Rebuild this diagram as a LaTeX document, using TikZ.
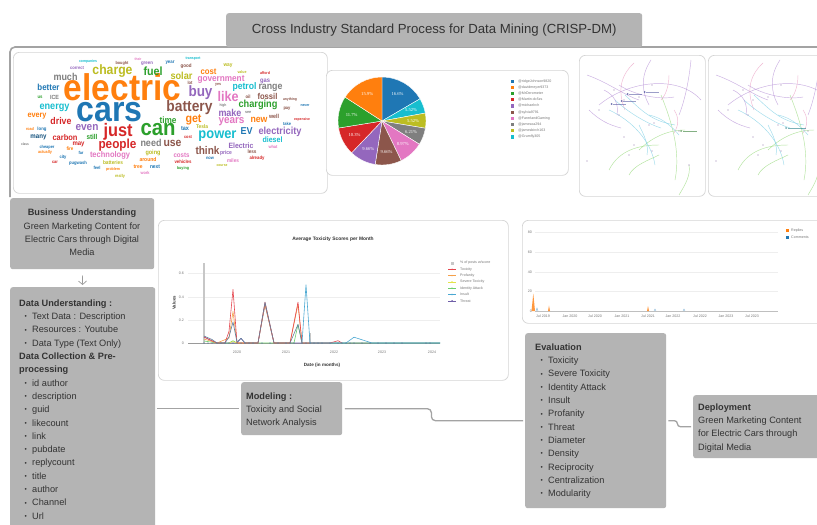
\documentclass[tikz,border=0pt]{standalone}
\usepackage{fontspec}
\setmainfont{Liberation Sans}
\newfontfamily\cloudfont[FakeStretch=0.9]{Liberation Sans}
\newfontfamily\piefont{Liberation Serif}
\usetikzlibrary{arrows.meta,calc}

% palette
\definecolor{boxgray}{HTML}{B4B4B4}
\definecolor{textdark}{HTML}{333333}
\definecolor{framegray}{HTML}{A3A3A3}
\definecolor{cardline}{HTML}{D4D4D4}
\definecolor{gridgray}{HTML}{EEEEEE}
\definecolor{axisgray}{HTML}{9A9A9A}
\definecolor{labgray}{HTML}{777777}
\definecolor{tabblue}{HTML}{1F77B4}
\definecolor{taborange}{HTML}{FF7F0E}
\definecolor{tabgreen}{HTML}{2CA02C}
\definecolor{tabred}{HTML}{D62728}
\definecolor{tabpurple}{HTML}{9467BD}
\definecolor{tabbrown}{HTML}{8C564B}
\definecolor{tabpink}{HTML}{E377C2}
\definecolor{tabgray}{HTML}{7F7F7F}
\definecolor{tabolive}{HTML}{BCBD22}
\definecolor{tabcyan}{HTML}{17BECF}
\definecolor{serTox}{HTML}{E5464F}
\definecolor{serProf}{HTML}{F5A04A}
\definecolor{serSev}{HTML}{E3E34A}
\definecolor{serIdent}{HTML}{6CCF6C}
\definecolor{serIns}{HTML}{4AA8D2}
\definecolor{serThr}{HTML}{6F5FA8}
\definecolor{serMix}{HTML}{62809E}
\definecolor{netlav}{HTML}{B894D8}
\definecolor{netcyan}{HTML}{7FD0E6}
\definecolor{netgreen}{HTML}{9ADB7E}
\definecolor{netpink}{HTML}{EBA0C4}
\definecolor{netmark}{HTML}{4B4F9C}

\newcommand\bodyfont{\fontsize{9.2}{13.3}\selectfont}
\newcommand\tinyf{\fontsize{3.6}{4.2}\selectfont}
\newcommand\bul[1]{\hspace*{5.5pt}\makebox[7.5pt][l]{\raisebox{0.8pt}{\scalebox{0.7}{\textbullet}}}#1}

% word-cloud word: x, y, width, colour, word
\newcounter{wcn}
\newcommand\cw[5]{\stepcounter{wcn}\node[cloudword,text=#4] (cw\thewcn) at (#1,#2) {\resizebox{#3pt}{!}{\cloudfont\bfseries #5}};}

% network sketch, coordinates relative to the card corner
\newcommand\netgraph{%
  \draw[netl=netlav]   (8,20) .. controls (30,28) and (45,40) .. (60,45);
  \draw[netl=netlav]   (20,50) .. controls (50,25) and (100,20) .. (122,45);
  \draw[netl=netpink]  (55,8) .. controls (42,20) and (38,35) .. (46,55);
  \draw[netl=netcyan]  (36,45) .. controls (52,60) and (72,70) .. (82,73);
  \draw[netl=netcyan]  (46,40) .. controls (62,55) and (72,66) .. (96,70);
  \draw[netl=netgreen] (82,40) .. controls (92,65) and (102,95) .. (96,125);
  \draw[netl=netgreen] (60,95) .. controls (70,85) and (86,75) .. (106,75);
  \draw[netl=netgreen] (30,115) .. controls (40,95) and (60,90) .. (80,90);
  \draw[netl=netlav]   (112,5) .. controls (110,25) and (106,45) .. (100,60);
  \draw[netl=netlav]   (72,5) .. controls (62,20) and (62,35) .. (70,50);
  \draw[netl=netpink]  (90,20) .. controls (90,30) and (87,40) .. (82,45);
  \draw[netl=netcyan]  (30,55) .. controls (52,65) and (72,85) .. (76,110);
  \draw[netl=netgreen] (110,110) .. controls (112,120) and (106,130) .. (100,140);
  \draw[netl=netlav]   (10,55) .. controls (20,65) and (30,70) .. (42,73);
  \draw[netl=netlav]   (40,30) .. controls (55,40) and (80,45) .. (95,42);
  \draw[netl=netcyan]  (60,70) .. controls (65,80) and (70,90) .. (68,100);
  \draw[netl=netpink]  (95,55) .. controls (100,62) and (100,70) .. (95,78);
  \draw[netl=netgreen] (50,120) .. controls (55,110) and (70,105) .. (80,100);
  \draw[netl=netlav]   (25,35) .. controls (35,40) and (40,48) .. (38,60);
  \draw[netl=netcyan]  (70,60) .. controls (80,62) and (90,68) .. (100,80);
  \foreach \px/\py in {35,45/45,40/60,45/82,73/96,70/70,50/100,60/42,73/30,55/90,20/55,8/106,75/68,100/76,110}
    \fill[netlav!80!black, opacity=0.45] (\px,\py) circle (0.9);
}

\tikzset{
  stepbox/.style={fill=boxgray, rounded corners=2.5pt, inner sep=0pt, anchor=north west},
  card/.style={draw=cardline, fill=white, rounded corners=6pt, line width=0.7pt, inner sep=0pt, anchor=north west},
  body/.style={font=\bodyfont, text=textdark, inner sep=0pt, align=left, anchor=north west},
  link/.style={draw=framegray, line width=1.3pt},
  frameline/.style={draw=framegray, line width=1.6pt},
  downarrow/.style={draw=axisgray, line width=0.7pt, -{Straight Barb[length=3.5pt,width=8pt]}},
  cloudword/.style={inner sep=0pt},
  tinylab/.style={font=\tinyf, text=labgray, inner sep=0pt},
  grid/.style={draw=gridgray, line width=0.4pt},
  ser/.style={draw=#1, line width=0.6pt, line join=round},
  netl/.style={draw=#1, line width=0.45pt, opacity=0.75},
  netlabel/.style={draw=netmark, line width=0.7pt, opacity=0.55},
}

\begin{document}
\begin{tikzpicture}[x=1pt,y=-1pt]
\useasboundingbox (0,0) rectangle (817,525);
\fill[white] (0,0) rectangle (817,525);

% ---------- outer frame and title ----------
\coordinate (fbot) at (10,197);
\coordinate (fcorner) at (10,47);
\coordinate (fright) at (818,47);
\draw[frameline, rounded corners=5pt] (fbot) -- (fcorner) -- (fright);
\node[stepbox, minimum width=416pt, minimum height=34pt] (title) at (226,13) {};
\node[font=\fontsize{13.2}{15}\selectfont, text=textdark, inner sep=0pt] (titletext) at (title.center) {Cross Industry Standard Process for Data Mining (CRISP-DM)};

% ---------- word cloud card ----------
\node[card, minimum width=314pt, minimum height=141pt] (cloudcard) at (13,52) {};
\cw{122.5}{87}{117}{taborange}{electric}
\cw{109.5}{112.5}{66}{tabblue}{cars}
\cw{118}{131.5}{29}{tabred}{just}
\cw{158}{130}{35}{tabgreen}{can}
\cw{189.5}{107.5}{46}{tabbrown}{battery}
\cw{200.5}{93}{24}{tabpurple}{buy}
\cw{228}{96}{21}{tabpink}{like}
\cw{217.5}{136}{38}{tabcyan}{power}
\cw{117.5}{145.5}{38}{tabred}{people}
\cw{151}{143}{21}{tabgray}{need}
\cw{172.5}{143.5}{18}{tabbrown}{use}
\cw{207.5}{151}{24}{tabbrown}{think}
\cw{112.5}{71.5}{40}{tabolive}{charge}
\cw{153}{71}{19}{tabgreen}{fuel}
\cw{181.5}{76}{22}{tabolive}{solar}
\cw{65.5}{77}{24}{tabgray}{much}
\cw{48.5}{87}{22}{tabblue}{better}
\cw{54.5}{97}{9}{tabgray}{ICE}
\cw{40}{97}{5}{tabgreen}{us}
\cw{54.5}{108}{30}{tabcyan}{energy}
\cw{37}{116}{19}{taborange}{every}
\cw{61}{121}{21}{tabred}{drive}
\cw{87}{128}{23}{tabpurple}{even}
\cw{65}{137.5}{25}{tabred}{carbon}
\cw{92}{137}{11}{tabgreen}{still}
\cw{38.5}{137}{16}{tabblue!70!black}{many}
\cw{30}{129}{8}{taborange}{road}
\cw{42}{129}{9}{tabblue}{long}
\cw{78.5}{144.5}{12}{tabred}{may}
\cw{47}{147}{15}{tabblue}{cheaper}
\cw{25}{144}{8}{tabgray}{class}
\cw{45}{152}{14}{taborange}{actually}
\cw{110}{155}{40}{tabpink}{technology}
\cw{153}{152.5}{15}{tabolive}{going}
\cw{181.5}{155.5}{16}{tabpink}{costs}
\cw{226}{153}{12}{tabpurple}{price}
\cw{252}{152}{9}{tabbrown}{less}
\cw{241}{146}{25}{tabpurple}{Electric}
\cw{272.5}{139.5}{20}{tabcyan}{diesel}
\cw{280}{132}{43}{tabpurple}{electricity}
\cw{246.5}{131}{12}{tabblue}{EV}
\cw{231.5}{122}{26}{tabpink}{years}
\cw{259}{120}{17}{taborange}{new}
\cw{274}{116.5}{10}{tabbrown}{well}
\cw{302}{120}{16}{tabred}{expensive}
\cw{287}{124}{8}{tabblue}{take}
\cw{230}{113}{23}{tabpurple}{make}
\cw{193.5}{119.5}{16}{taborange}{get}
\cw{168}{120}{17}{tabgreen}{time}
\cw{258}{105}{39}{tabgreen}{charging}
\cw{267.5}{96}{20}{tabbrown}{fossil}
\cw{270.5}{88}{24}{tabgray}{range}
\cw{244.5}{87}{24}{tabcyan}{petrol}
\cw{221}{79}{47}{tabpink}{government}
\cw{208.5}{71.5}{16}{taborange}{cost}
\cw{265}{81}{10}{tabpurple}{gas}
\cw{265}{73}{10}{tabred}{afford}
\cw{290}{100}{14}{tabbrown}{anything}
\cw{305}{106}{9}{tabblue}{never}
\cw{287}{109}{7}{tabbrown}{pay}
\cw{185}{129}{8}{tabblue}{tax}
\cw{202}{127}{12}{tabolive}{Tesla}
\cw{188}{137}{8}{tabred}{cost}
\cw{257}{158}{15}{tabred}{already}
\cw{233}{161}{12}{tabpink}{miles}
\cw{210}{158}{8}{tabblue}{now}
\cw{183}{162}{17}{tabred}{vehicles}
\cw{183}{168}{12}{tabgreen}{buying}
\cw{222}{166}{11}{tabolive}{course}
\cw{148}{159.5}{17}{taborange}{around}
\cw{155}{167}{10}{tabblue}{next}
\cw{138}{167}{9}{taborange}{tree}
\cw{113}{162.5}{20}{tabolive}{batteries}
\cw{78}{163}{18}{tabblue}{pugwash}
\cw{113}{169}{14}{taborange}{problem}
\cw{120}{176}{10}{tabolive}{really}
\cw{145}{173}{9}{tabpink}{work}
\cw{97}{168}{7}{tabblue}{feel}
\cw{63}{157}{7}{tabblue}{city}
\cw{55}{162}{6}{tabred}{car}
\cw{88}{62}{18}{tabcyan}{companies}
\cw{77}{68}{14}{tabpurple}{correct}
\cw{122}{63.5}{13}{tabbrown}{bought}
\cw{147}{63.5}{12}{tabpurple}{green}
\cw{138}{59}{7}{tabpink}{their}
\cw{170}{63}{9}{tabblue}{year}
\cw{193}{59}{15}{tabcyan}{transport}
\cw{186}{66.5}{11}{tabbrown}{good}
\cw{228}{66}{9}{tabolive}{way}
\cw{242}{72}{9}{tabolive}{value}
\cw{190}{83}{5}{tabbrown}{lot}
\cw{218}{85}{6}{tabbrown}{yes}
\cw{223}{106}{7}{tabgray}{high}
\cw{248}{97}{5}{tabbrown}{oil}
\cw{248}{112}{6}{tabgray}{see}
\cw{70}{149}{7}{taborange}{fire}
\cw{81}{153}{5}{tabblue}{far}
\cw{273}{147}{9}{tabpink}{what}

% ---------- pie chart card ----------
\node[card, minimum width=242pt, minimum height=105pt] (piecard) at (326,70) {};
\begin{scope}[shift={(382,121)}, x=1pt, y=1pt]
  \foreach \a/\b/\c/\lab [count=\k] in {
      90/30.24/tabblue/16.6\%, 30.24/10.37/tabcyan/5.52\%, 10.37/-9.5/tabolive/5.52\%,
      -9.5/-31.86/tabgray/6.21\%, -31.86/-64.15/tabpink/8.97\%, -64.15/-98.93/tabbrown/9.66\%,
      -98.93/-133.7/tabpurple/9.66\%, -133.7/-170.8/tabred/10.3\%, -170.8/-212.9/tabgreen/11.7\%,
      -212.9/-270/taborange/15.9\%} {
    \filldraw[fill=\c, draw=white, line width=0.4pt] (0,0) -- (\a:44) arc[start angle=\a, end angle=\b, radius=44] -- cycle;
    \node[font=\piefont\fontsize{4.6}{5}\selectfont, text=white, inner sep=0pt] (pl\k) at ({(\a+\b)/2}:31) {\lab};
  }
\end{scope}
\foreach \c/\lab [count=\k] in {tabblue/@ridgeJohnson9820, taborange/@davidmeyer9373, tabgreen/@MrDerometer,
    tabred/@Martin-dc5zs, tabpurple/@michaelrch, tabbrown/@sylvia9791, tabpink/@FarerlandGaming,
    tabgray/@jamesoa294, tabolive/@jamesbirch163, tabcyan/@Grumfly305} {
  \fill[\c] ({510.5},{79.5+6.2*(\k-1)}) rectangle ++(3.4,3.2);
  \node[tinylab, anchor=west] (pleg\k) at (518,{81.1+6.2*(\k-1)}) {\lab};
}

% ---------- network cards ----------
\node[card, minimum width=126pt, minimum height=141pt] (netA) at (579,55) {};
\node[card, minimum width=126pt, minimum height=141pt] (netB) at (708,55) {};
\begin{scope}[shift={(579,55)}]
  \netgraph
  \foreach \px/\py in {50/39, 67/37, 44/46, 34/49} {
    \fill[netmark, opacity=0.8] (\px-1.5,\py) circle (1);
    \draw[netlabel] (\px,\py) -- ++(13,0);
  }
  \fill[tabgreen!70!black, opacity=0.6] (102,76) circle (1);
  \draw[netlabel, draw=tabgreen!70!black] (104,76) -- ++(14,0);
\end{scope}
\begin{scope}[shift={(708,55)}]
  \clip (0,0) rectangle (110,141);
  \netgraph
  \fill[tabcyan!60!black, opacity=0.6] (78,73) circle (1);
  \draw[netlabel, draw=tabcyan!60!black] (80,73) -- ++(18,0);
\end{scope}

% ---------- toxicity chart card ----------
\node[card, minimum width=350pt, minimum height=160pt] (chartA) at (158,220) {};
\node[font=\fontsize{4.9}{5.5}\selectfont\bfseries, text=textdark, inner sep=0pt] (chAtitle) at (333,239) {Average Toxicity Scores per Month};
\foreach \yy in {273,297,320} \draw[grid] (188,\yy) -- (440,\yy);
\draw[axisgray, line width=0.5pt] (188,343) -- (440,343);
\foreach \yy/\lab [count=\k] in {343/0, 320/0.2, 297/0.4, 273/0.6}
  \node[tinylab, anchor=east] (chAy\k) at (184,\yy) {\lab};
\node[tinylab, font=\fontsize{4.3}{5}\selectfont\bfseries, text=textdark, rotate=90] (chAylab) at (174,303) {Values};
\foreach \xx/\lab [count=\k] in {237/2020, 286/2021, 334/2022, 382/2023, 432/2024}
  \node[tinylab] (chAx\k) at (\xx,352) {\lab};
\node[font=\fontsize{4.6}{5}\selectfont\bfseries, text=textdark, inner sep=0pt] (chAxlab) at (322,365) {Date (in months)};
% bars: share of posts with a score
\fill[black!22] (203,343) rectangle (205.2,263);
\fill[black!22] (309.2,343) rectangle (311,333);
% series
\draw[ser=serThr] (204,337) -- (212,341) -- (217,343) -- (237,343) -- (241,338.3) -- (245,343) -- (258,343) -- (265,304.6) -- (274,343) -- (440,343);
\draw[ser=serIdent] (204,341) -- (217,343) -- (229,343) -- (233,340.7) -- (237,343) -- (294,343) -- (298,324.4) -- (302,343) -- (440,343);
\draw[ser=serSev] (229,343) -- (233,341.5) -- (237,343);
\draw[ser=serProf] (204,339) -- (217,343) -- (229,338) -- (233,311.5) -- (237,343) -- (258,343) -- (265,304.6) -- (274,343) -- (290,343) -- (298,304.6) -- (302,343);
\draw[ser=serTox] (204,337) -- (212,340.7) -- (217,343) -- (225,343) -- (229,331.4) -- (233,289.4) -- (237,343) -- (258,343) -- (265,302.2) -- (274,343) -- (290,343) -- (298,302.2) -- (302,343) -- (330,343) -- (338,340.7) -- (342,343);
\draw[ser=serMix] (204,336) -- (212,339.5) -- (217,343) -- (225,343) -- (229,337) -- (233,322) -- (237,342) -- (241,338.3) -- (245,343) -- (258,343) -- (265,302.2) -- (274,343) -- (290,343) -- (298,324.4) -- (302,343);
\draw[ser=serIns] (302,343) -- (306,284.8) -- (310,343) -- (346,343) -- (354,337.2) -- (372,343) -- (440,343);
\foreach \xx in {204,208,212,217,221,225,229,233,237,241,245,249,253,262,270,278,286,290,294,302,306,310,314,318,322,330,338,342,346,350,354,362,370,378,386,394,402,426,430}
  \fill[serMix] (\xx,343) circle (0.75);
% legend
\foreach \c/\lab [count=\k] in {serTox/Toxicity, serProf/Profanity, serSev/Severe Toxicity, serIdent/Identity Attack, serIns/Insult, serThr/Threat} {
  \draw[\c, line width=0.6pt] (448,{269.3+6.3*(\k-1)}) -- ++(8,0);
  \fill[\c] (452,{269.3+6.3*(\k-1)}) circle (0.8);
  \node[tinylab, anchor=west] (chAleg\k) at (460,{269.3+6.3*(\k-1)}) {\lab};
}
\fill[black!22] (450.5,261.5) rectangle ++(3,3);
\node[tinylab, anchor=west] (chAleg0) at (460,263) {\% of posts w/score};

% ---------- replies / comments chart card ----------
\node[card, minimum width=310pt, minimum height=103pt] (chartB) at (522,220) {};
\foreach \yy in {232,252,272,291} \draw[grid] (535,\yy) -- (778,\yy);
\draw[black!25, line width=0.5pt] (535,311) -- (778,311);
\foreach \yy/\lab [count=\k] in {232/80, 252/60, 272/40, 291/20, 311/0}
  \node[tinylab, anchor=east] (chBy\k) at (532,\yy) {\lab};
\foreach \xx/\lab [count=\k] in {543/Jul 2019, 570/Jan 2020, 595/Jul 2020, 622/Jan 2021, 648/Jul 2021, 673/Jan 2022, 700/Jul 2022, 726/Jan 2023, 752/Jul 2023}
  \node[tinylab] (chBx\k) at (\xx,316) {\lab};
\fill[taborange!80] (531.5,311) -- (533.3,293.5) -- (535,311) -- cycle;
\fill[taborange!80] (548,311) -- (549,305.5) -- (550,311) -- cycle;
\fill[taborange!80] (647,311) -- (648,306) -- (649,311) -- cycle;
\draw[tabblue!60, line width=0.4pt] (536,311) -- (537,308) -- (538,311);
\draw[tabblue!60, line width=0.4pt] (654,311) -- (655,309) -- (656,311);
\draw[tabblue!60, line width=0.4pt] (683,311) -- (684,309) -- (685,311);
\fill[taborange] (786,229) rectangle ++(3.2,3.2);
\node[tinylab, anchor=west] (chBleg1) at (791,230.6) {Replies};
\fill[tabblue] (786,235.5) rectangle ++(3.2,3.2);
\node[tinylab, anchor=west] (chBleg2) at (791,237.1) {Comments};

% ---------- CRISP-DM phases ----------
\node[stepbox, minimum width=144pt, minimum height=71pt] (bu) at (10,198) {};
\node[body, anchor=center, align=center] (butext) at (82,232.5) {\textbf{Business Understanding}\\Green Marketing Content for\\Electric Cars through Digital\\Media};

\node[stepbox, minimum width=145pt, minimum height=250pt] (du) at (10,287) {};
\node[body] (dutext) at (19,299.5) {\textbf{Data Understanding :}\\
  \bul{Text Data : Description}\\
  \bul{Resources : Youtube}\\
  \bul{Data Type (Text Only)}\\
  \textbf{Data Collection \& Pre-}\\
  \textbf{processing}\\
  \bul{id author}\\
  \bul{description}\\
  \bul{guid}\\
  \bul{likecount}\\
  \bul{link}\\
  \bul{pubdate}\\
  \bul{replycount}\\
  \bul{title}\\
  \bul{author}\\
  \bul{Channel}\\
  \bul{Url}};

\node[stepbox, minimum width=101pt, minimum height=53pt] (mod) at (241,382) {};
\node[body] (modtext) at (246,392.5) {\textbf{Modeling :}\\Toxicity and Social\\Network Analysis};

\node[stepbox, minimum width=141pt, minimum height=175pt] (ev) at (525,333) {};
\node[body] (evtext) at (535,343.5) {\textbf{Evaluation}\\
  \bul{Toxicity}\\
  \bul{Severe Toxicity}\\
  \bul{Identity Attack}\\
  \bul{Insult}\\
  \bul{Profanity}\\
  \bul{Threat}\\
  \bul{Diameter}\\
  \bul{Density}\\
  \bul{Reciprocity}\\
  \bul{Centralization}\\
  \bul{Modularity}};

\node[stepbox, minimum width=130pt, minimum height=63pt] (dep) at (693,395) {};
\node[body] (deptext) at (698,403.5) {\textbf{Deployment}\\Green Marketing Content\\for Electric Cars through\\Digital Media};

% ---------- connectors ----------
\draw[downarrow, shorten <=6pt, shorten >=2pt] (bu.south) -- (du.north);
\draw[link, shorten <=1.5pt, shorten >=2.5pt] (du.east |- mod.west) -- (mod.west);
\coordinate (mstep) at ($(mod.east)+(89,0)$);
\draw[link, rounded corners=4pt, shorten <=2.5pt, shorten >=2pt] (mod.east) -- (mstep) |- (ev.west);
\coordinate (estep) at ($(ev.east)+(11,0)$);
\draw[link, rounded corners=3pt, shorten <=2pt, shorten >=2pt] (ev.east) -- (estep) |- (dep.west);
\end{tikzpicture}
\end{document}
